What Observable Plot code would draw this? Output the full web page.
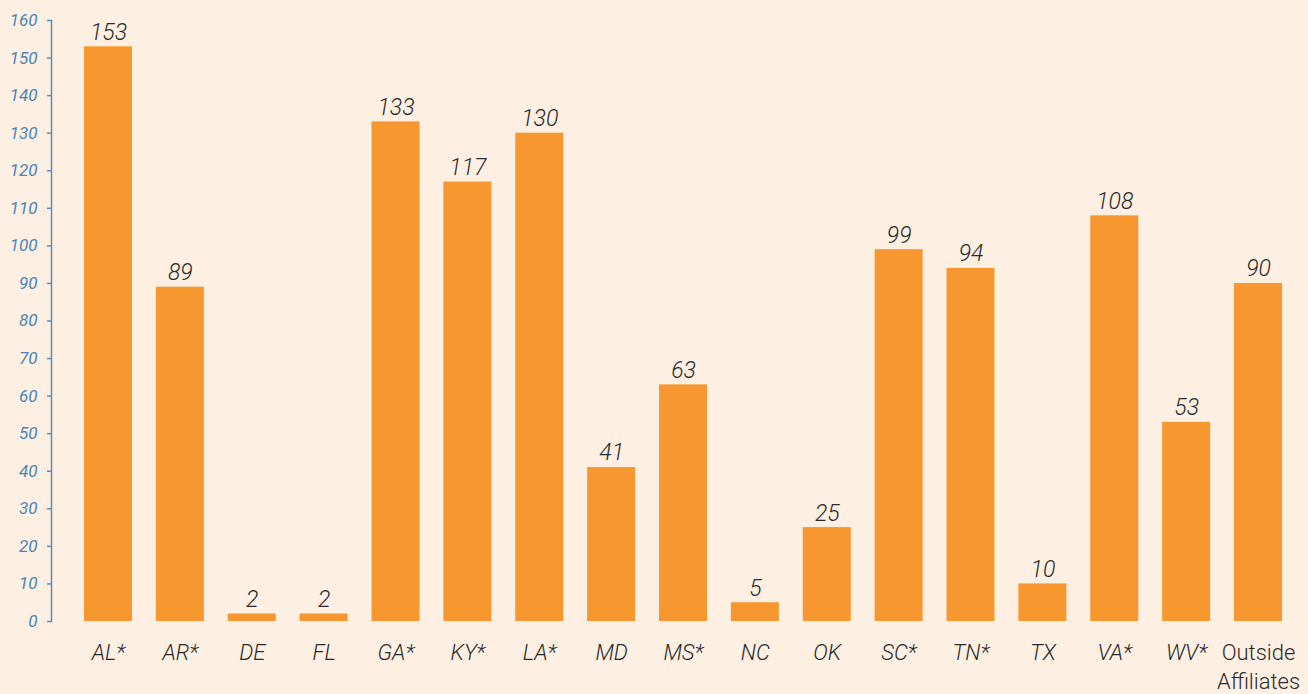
<!DOCTYPE html>
<html>
<head>
<meta charset="utf-8">
<script src="https://cdn.jsdelivr.net/npm/d3@7"></script>
<script src="https://cdn.jsdelivr.net/npm/@observablehq/plot@0.6"></script>
<style>
  html, body { margin: 0; padding: 0; background: #fdf0e2; }
  #chart { width: 1308px; height: 694px; }
</style>
</head>
<body>
<div id="chart"></div>
<script>
const categories = ["AL*", "AR*", "DE", "FL", "GA*", "KY*", "LA*", "MD", "MS*", "NC", "OK", "SC*", "TN*", "TX", "VA*", "WV*", "Outside Affiliates"];
const values = [153, 89, 2, 2, 133, 117, 130, 41, 63, 5, 25, 99, 94, 10, 108, 53, 90];
const yTicks = [0, 10, 20, 30, 40, 50, 60, 70, 80, 90, 100, 110, 120, 130, 140, 150, 160];
const labelLines = {"Outside Affiliates": "Outside\nAffiliates"};

const data = categories.map((c, i) => ({cat: c, value: values[i]}));
const stateData = data.filter(d => !labelLines[d.cat]);
const otherData = data.filter(d => labelLines[d.cat]);

const font = "Roboto, 'Liberation Sans Narrow', 'DejaVu Sans Condensed', sans-serif";

const chart = Plot.plot({
  width: 1308,
  height: 694,
  marginLeft: 51,
  marginRight: 0,
  marginTop: 20,
  marginBottom: 73,
  style: {background: "#fdf0e2", fontFamily: font},
  x: {domain: categories, range: [51, 1315], paddingInner: 0.332, paddingOuter: 0.459, round: false, axis: null},
  y: {domain: [0, 160], axis: null},
  marks: [
    Plot.barY(data, {x: "cat", y: "value", fill: "#f7972f"}),
    Plot.text(data, {x: "cat", y: "value", text: d => String(d.value), lineAnchor: "bottom", dy: -7,
      fontSize: 23, fontStyle: "italic", fontWeight: 300, fill: "#2a2a2a", letterSpacing: "-1.1px"}),
    Plot.text(stateData, {x: "cat", y: () => 0, text: "cat", lineAnchor: "middle", dy: 31,
      fontSize: 22, fontStyle: "italic", fontWeight: 300, fill: "#2a2a2a", letterSpacing: "-0.8px"}),
    Plot.text(otherData, {x: "cat", y: () => 0, text: d => labelLines[d.cat], lineAnchor: "middle", dy: 44,
      lineHeight: 1.32, fontSize: 22, fontWeight: 300, fill: "#2a2a2a", letterSpacing: "-1px"}),
    Plot.tickY(yTicks, {y: d => d, frameAnchor: "left", stroke: "#5b8db8", strokeWidth: 1.5}),
    Plot.text(yTicks, {y: d => d, text: d => String(d), frameAnchor: "left", textAnchor: "end", dx: -14,
      fill: "#4a85b8", fontSize: 17, fontStyle: "italic", fontWeight: 400, letterSpacing: "-0.9px"}),
    Plot.frame({anchor: "left", stroke: "#5b8db8", strokeWidth: 1.5})
  ]
});
// short tick marks to the left of the axis line
d3.select(chart).selectAll("line").filter(function() {
  return this.parentNode && this.parentNode.getAttribute("aria-label") === "tick";
}).each(function() {
  d3.select(this).attr("x1", 47).attr("x2", 51);
});
document.getElementById("chart").appendChild(chart);
</script>
</body>
</html>
